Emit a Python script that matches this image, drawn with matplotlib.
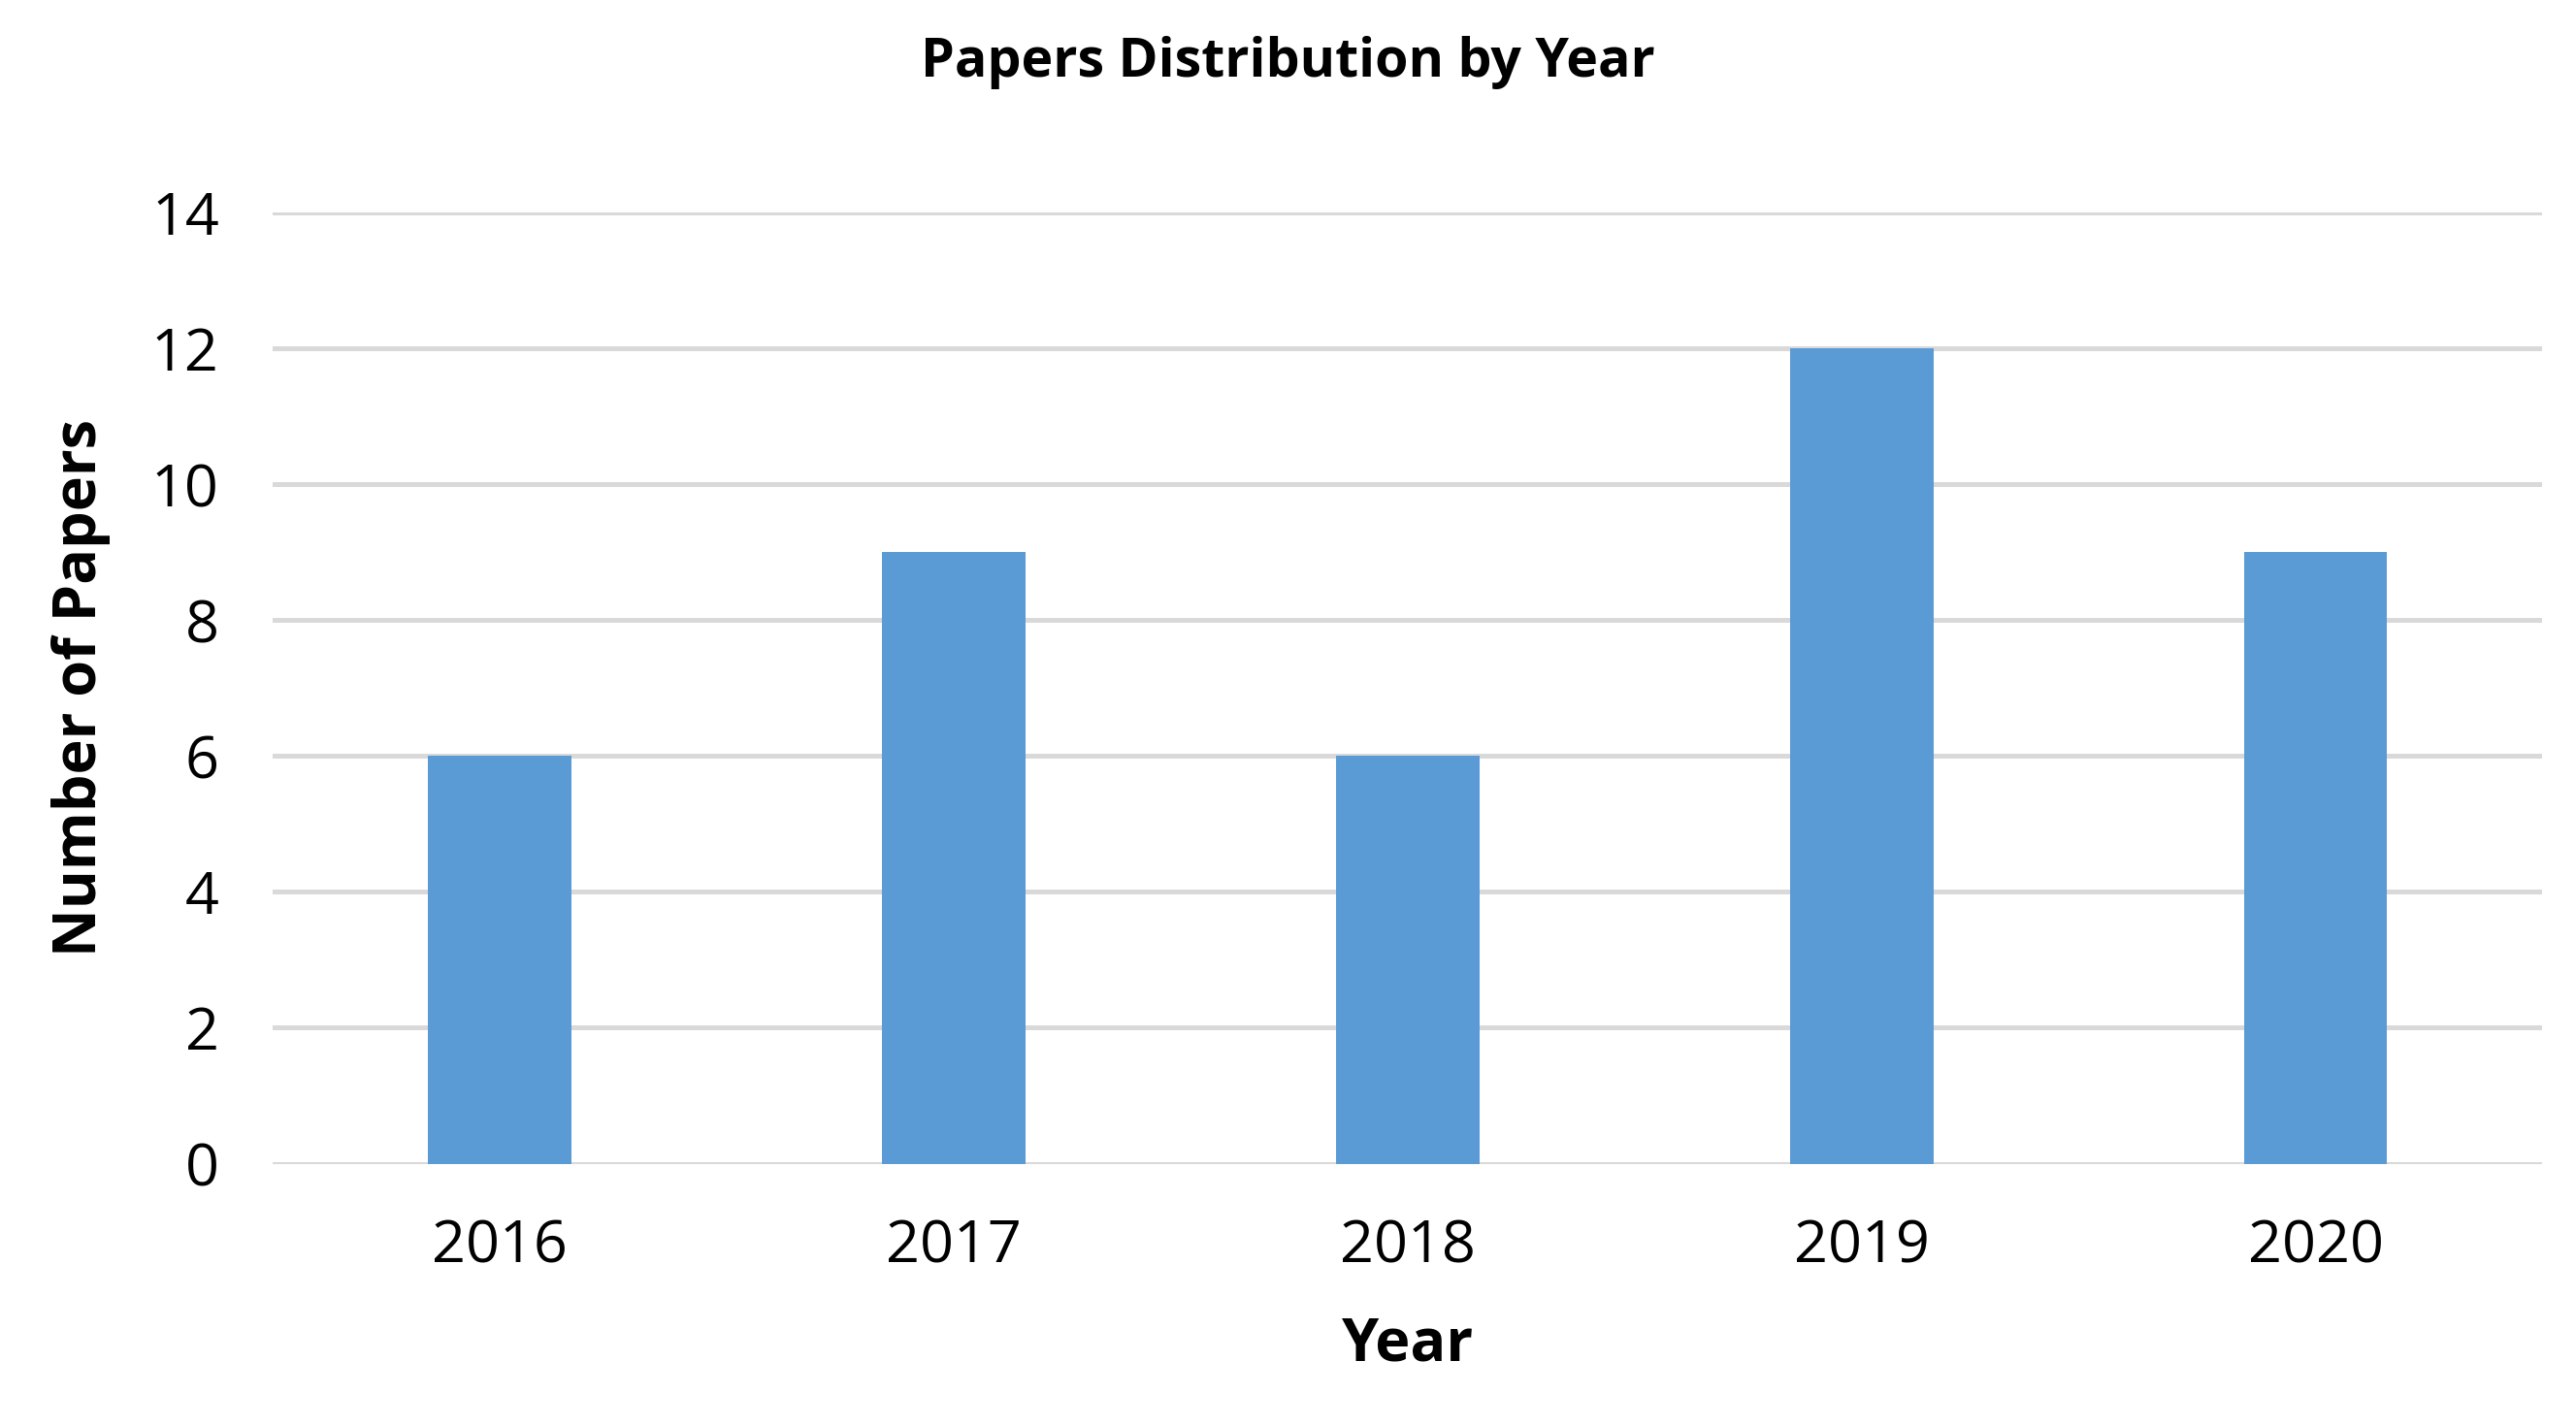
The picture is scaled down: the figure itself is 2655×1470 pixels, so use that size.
import matplotlib
matplotlib.use("Agg")
import matplotlib.pyplot as plt

years = ["2016", "2017", "2018", "2019", "2020"]
papers = [6, 9, 6, 12, 9]

plt.rcParams['font.family'] = ['Open Sans', 'DejaVu Sans']

fig = plt.figure(figsize=(26.55, 14.7), dpi=100)
ax = fig.add_axes([0.106, 0.184, 0.881, 0.667])

ax.bar(range(len(years)), papers, width=0.316, color="#5b9bd5", zorder=3)
ax.set_xlim(-0.5, len(years) - 0.5)
ax.set_ylim(0, 14)
ax.set_yticks(range(0, 15, 2))
ax.set_xticks(range(len(years)))
ax.set_xticklabels(years)
ax.yaxis.grid(True, color="#d9d9d9", linewidth=3.6, zorder=0)
ax.set_axisbelow(True)
for s in ax.spines.values():
    s.set_visible(False)
ax.tick_params(axis="both", length=0, labelsize=44, colors="black")
ax.tick_params(axis="y", pad=40)
ax.tick_params(axis="x", pad=40)

ax.set_xlabel("Year", fontsize=44, fontweight="bold", labelpad=30)
ax.set_ylabel("Number of Papers", fontsize=44, fontweight="bold", labelpad=30)
fig.suptitle("Papers Distribution by Year", fontsize=40, fontweight="bold", y=0.975)

fig.savefig("out.png", dpi=100)
